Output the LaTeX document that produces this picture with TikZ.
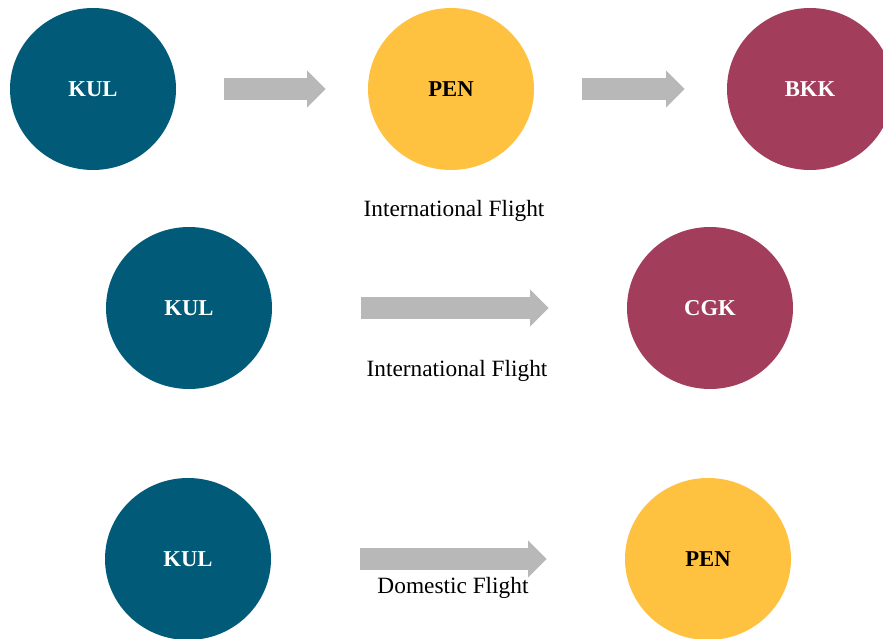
\documentclass[tikz,border=0pt]{standalone}
\usepackage{fontspec}
\setmainfont{Liberation Serif}
\usetikzlibrary{shapes.geometric,arrows.meta}
\definecolor{teal1}{HTML}{005A78}
\definecolor{gold1}{HTML}{FFC140}
\definecolor{wine1}{HTML}{A23E5B}
\definecolor{grey1}{HTML}{B8B8B8}
\tikzset{
  airport/.style={ellipse, minimum width=124.5pt, minimum height=121.5pt, inner sep=0pt, font=\fontsize{17}{19}\selectfont\bfseries},
  flight/.style={draw=grey1, line width=16pt, -{Triangle[length=14pt,width=27pt]}},
  route/.style={font=\fontsize{17.5}{20}\selectfont}
}
\begin{document}
\begin{tikzpicture}[x=0.75pt,y=-0.75pt]
\useasboundingbox (0,0) rectangle (883,639);
\node[airport,fill=teal1,text=white] (kul1) at (93,89) {KUL};
\node[airport,fill=gold1,text=black] (pen1) at (451,89) {PEN};
\node[airport,fill=wine1,text=white] (bkk1) at (810,89) {BKK};
\path[flight,shorten <=36pt,shorten >=31.5pt] (kul1) -- (pen1);
\path[flight,shorten <=36pt,shorten >=31.5pt] (pen1) -- (bkk1);
\node[route] (lab1) at (454,211) {International Flight};

\node[airport,fill=teal1,text=white] (kul2) at (189,308) {KUL};
\node[airport,fill=wine1,text=white] (cgk2) at (710,308) {CGK};
\path[flight,shorten <=66.75pt,shorten >=58.5pt] (kul2) -- (cgk2);
\node[route] (lab2) at (457,371) {International Flight};

\node[airport,fill=teal1,text=white] (kul3) at (188,559) {KUL};
\node[airport,fill=gold1,text=black] (pen3) at (708,559) {PEN};
\path[flight,shorten <=66.75pt,shorten >=58.5pt] (kul3) -- (pen3);
\node[route] (lab3) at (453,588) {Domestic Flight};
\end{tikzpicture}
\end{document}
